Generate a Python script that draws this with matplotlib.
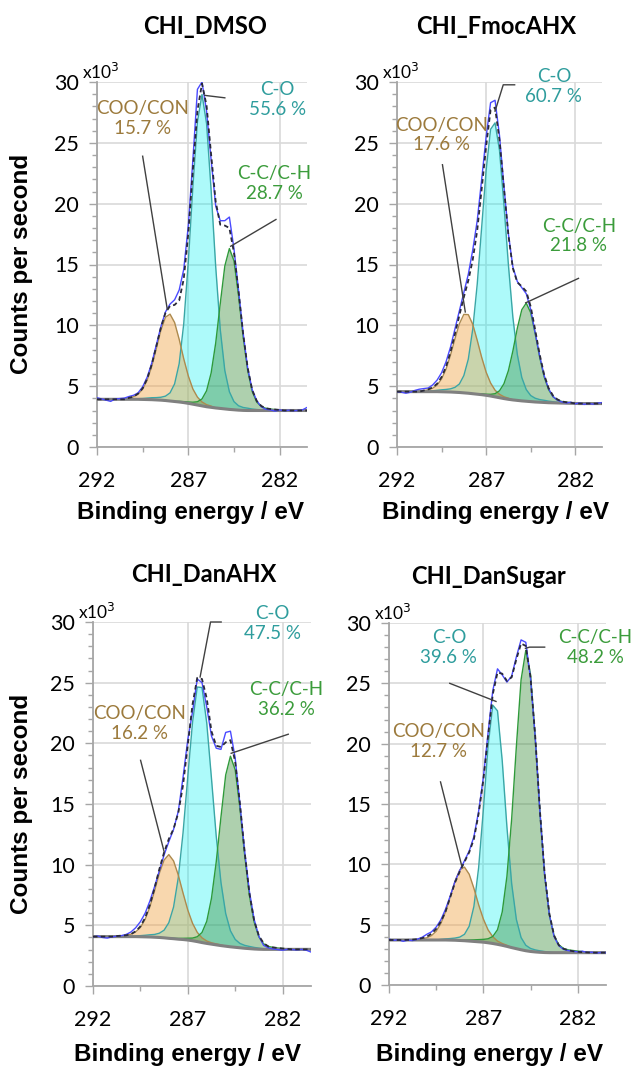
import numpy as np
import matplotlib.pyplot as plt
from matplotlib.ticker import MultipleLocator, FixedLocator

# binding energy grid (eV), 0.25 eV steps from 292 down to 280.5
energy = np.arange(292.0, 280.4, -0.25)

# ---- CHI_DMSO (counts/s x10^3), peaks are heights above the background ----
dmso_bg = [3.92] * 10 + [3.91, 3.90, 3.89, 3.87, 3.85, 3.82, 3.78, 3.74, 3.70, 3.65, 3.59, 3.52,
                         3.45, 3.38, 3.31, 3.26, 3.21, 3.17, 3.13, 3.09, 3.06, 3.03, 3.01] + [3.0] * 14
dmso_coo = [0] * 7 + [0.12, 0.21, 0.42, 0.84, 1.60, 2.74, 4.22, 5.74, 6.85, 7.14, 6.49, 5.15, 3.60,
                      2.25, 1.25, 0.65, 0.32, 0.17, 0.10] + [0] * 21
dmso_co = [0] * 9 + [0.05, 0.08, 0.12, 0.16, 0.19, 0.24, 0.36, 0.67, 1.45, 3.15, 6.48, 11.62, 17.85,
                     23.27, 25.6, 23.27, 17.85, 11.62, 6.48, 3.15, 1.45, 0.67, 0.36, 0.24, 0.19,
                     0.12, 0.08, 0.05] + [0] * 10
dmso_cc = [0] * 18 + [0.05, 0.08, 0.11, 0.16, 0.27, 0.57, 1.31, 2.82, 5.33, 8.62, 11.75, 13.22, 12.25,
                      9.43, 6.09, 3.32, 1.56, 0.69, 0.32, 0.18, 0.12, 0.08, 0.05] + [0] * 6
dmso_fit = [3.92] * 7 + [4.04, 4.13, 4.39, 4.82, 5.62, 6.79, 8.28, 9.83, 11.03, 11.59, 11.68, 12.05,
                         13.81, 17.57, 22.78, 27.64, 29.87, 28.06, 24.03, 20.16, 18.27, 18.2, 18.0,
                         15.98, 12.82, 9.34, 6.51, 4.68, 3.77, 3.37, 3.18, 3.12, 3.08, 3.05] + [3.0] * 6
dmso_meas = [4.05, 3.95, 3.85, 3.75, 3.95, 3.98, 4.02, 4.15, 4.25, 4.45, 4.95, 5.75, 6.9, 8.4, 9.9,
             11.1, 11.75, 12.1, 12.9, 14.6, 18.2, 23.6, 29.4, 30.0, 27.6, 23.6, 19.8, 18.6, 18.6,
             18.9, 16.3, 12.9, 9.4, 6.5, 4.7, 3.8, 3.3, 3.1, 3.05, 2.95, 3.05, 2.98, 3.02, 2.98,
             3.0, 3.05, 3.25]

# ---- CHI_FmocAHX ----
fmoc_bg = [4.55] * 10 + [4.54, 4.53, 4.52, 4.50, 4.48, 4.45, 4.42, 4.38, 4.34, 4.30, 4.25, 4.19,
                         4.12, 4.05, 3.98, 3.92, 3.87, 3.83, 3.79, 3.76, 3.73, 3.70, 3.68, 3.66,
                         3.64, 3.63, 3.62, 3.61, 3.60, 3.59, 3.58] + [3.57] * 6
fmoc_coo = [0] * 6 + [0.09, 0.15, 0.28, 0.54, 1.05, 1.86, 3.02, 4.38, 5.65, 6.45, 6.46, 5.70, 4.43,
                      3.07, 1.90, 1.07, 0.55, 0.28, 0.15, 0.09] + [0] * 21
fmoc_co = [0] * 7 + [0.04, 0.07, 0.11, 0.16, 0.20, 0.26, 0.40, 0.70, 1.42, 2.80, 5.32, 9.04, 13.77,
                     18.49, 21.92, 22.52, 20.33, 15.92, 11.04, 6.80, 3.77, 1.92, 0.96, 0.50, 0.31,
                     0.22, 0.18, 0.13, 0.09, 0.05] + [0] * 10
fmoc_cc = [0] * 19 + [0.07, 0.09, 0.14, 0.26, 0.57, 1.22, 2.36, 4.02, 5.93, 7.49, 8.07, 7.31, 5.63,
                      3.73, 2.13, 1.08, 0.51, 0.24, 0.13, 0.08, 0.05] + [0] * 7
fmoc_fit = [4.55] * 6 + [4.64, 4.74, 4.90, 5.20, 5.75, 6.59, 7.80, 9.28, 10.83, 12.32, 13.68, 15.40,
                         17.81, 21.21, 24.73, 27.7, 27.9, 25.23, 21.27, 17.41, 14.69, 13.53, 13.20,
                         12.79, 11.54, 9.64, 7.63, 5.97, 4.85, 4.23, 3.91, 3.74, 3.68, 3.64,
                         3.58] + [3.57] * 6
fmoc_meas = [4.55, 4.50, 4.42, 4.50, 4.65, 4.75, 4.80, 4.85, 5.10, 5.50, 6.10, 7.00, 8.20, 9.70,
             11.20, 12.70, 14.20, 16.20, 18.60, 22.00, 25.50, 28.30, 28.50, 25.60, 21.40, 17.50,
             14.80, 13.60, 13.10, 12.60, 11.30, 9.40, 7.50, 5.90, 4.80, 4.15, 3.85, 3.70, 3.62,
             3.68, 3.55, 3.62, 3.50, 3.58, 3.52, 3.60, 3.65]

# ---- CHI_DanAHX ----
danahx_bg = [4.07] * 10 + [4.06, 4.05, 4.04, 4.02, 4.00, 3.97, 3.93, 3.90, 3.86, 3.83, 3.79, 3.73,
                           3.66, 3.58, 3.51, 3.45, 3.39, 3.33, 3.28, 3.23, 3.19, 3.15, 3.11, 3.08,
                           3.05, 3.03] + [3.02] * 11
danahx_coo = [0] * 5 + [0.05, 0.08, 0.11, 0.20, 0.39, 0.76, 1.44, 2.47, 3.83, 5.28, 6.41, 6.90, 6.41,
                        5.28, 3.83, 2.47, 1.44, 0.76, 0.39, 0.20, 0.11, 0.08, 0.05] + [0] * 19
danahx_co = [0] * 9 + [0.05, 0.09, 0.13, 0.18, 0.23, 0.35, 0.63, 1.29, 2.61, 5.08, 8.80, 13.46,
                       17.99, 20.98, 21.02, 18.17, 13.65, 8.97, 5.21, 2.69, 1.32, 0.65, 0.36, 0.24,
                       0.18, 0.13, 0.09, 0.05] + [0] * 10
danahx_cc = [0] * 17 + [0.03, 0.06, 0.10, 0.15, 0.22, 0.40, 0.83, 1.82, 3.78, 6.83, 10.60, 14.11,
                        15.71, 14.64, 11.53, 7.69, 4.39, 2.22, 1.02, 0.46, 0.24, 0.16, 0.11, 0.07,
                        0.04] + [0] * 5
danahx_fit = [4.07] * 5 + [4.12, 4.15, 4.18, 4.27, 4.51, 4.91, 5.62, 6.69, 8.08, 9.63, 11.01, 12.12,
                           12.95, 14.28, 16.56, 19.87, 23.2, 25.4, 25.3, 23.70, 20.99, 19.8, 19.7,
                           20.08, 20.26, 18.48, 15.04, 11.04, 7.65, 5.40, 4.14, 3.53, 3.26, 3.18,
                           3.13, 3.09, 3.06] + [3.02] * 5
danahx_meas = [4.05, 4.12, 4.00, 3.95, 4.05, 4.10, 4.15, 4.25, 4.45, 4.80, 5.30, 6.00, 7.00, 8.20,
               9.50, 10.80, 11.90, 12.90, 14.40, 17.20, 20.30, 22.60, 25.30, 25.00, 23.00, 20.60,
               19.60, 19.50, 20.90, 21.00, 18.80, 15.00, 11.10, 7.80, 5.50, 4.10, 3.35, 3.15,
               3.05, 3.00, 2.95, 3.02, 3.00, 2.97, 3.02, 2.95, 2.80]

# ---- CHI_DanSugar ----
dansugar_bg = [3.73] * 13 + [3.72, 3.71, 3.69, 3.67, 3.64, 3.61, 3.58, 3.55, 3.50, 3.44, 3.37, 3.29,
                             3.20, 3.10, 3.01, 2.92, 2.84, 2.78, 2.74, 2.71, 2.69] + [2.68] * 13
dansugar_coo = [0] * 7 + [0.10, 0.18, 0.36, 0.72, 1.37, 2.34, 3.60, 4.90, 5.85, 6.10, 5.54, 4.40,
                          3.07, 1.92, 1.07, 0.56, 0.27, 0.15, 0.09] + [0] * 21
dansugar_co = [0] * 11 + [0.05, 0.09, 0.13, 0.18, 0.28, 0.53, 1.23, 2.91, 6.14, 10.97, 16.29, 19.75,
                          19.35, 15.31, 9.89, 5.30, 2.42, 1.01, 0.45, 0.25, 0.17, 0.12, 0.08,
                          0.05] + [0] * 12
dansugar_cc = [0] * 16 + [0.05, 0.09, 0.13, 0.18, 0.23, 0.33, 0.58, 1.21, 2.76, 5.81, 10.65, 16.75,
                          22.38, 24.90, 22.96, 17.74, 11.58, 6.42, 3.11, 1.40, 0.65, 0.35, 0.23,
                          0.18, 0.13, 0.09, 0.05] + [0] * 4
dansugar_fit = [3.73, 3.73, 3.73, 3.73, 3.74, 3.76, 3.80, 3.88, 4.00, 4.25, 4.65, 5.25, 6.10, 7.30,
                8.50, 9.40, 10.20, 11.00, 12.10, 14.20, 17.00, 20.60, 24.10, 25.90, 25.80, 25.20,
                25.50, 27.00, 28.30, 28.10, 25.50, 20.60, 14.40, 9.20, 5.90, 4.10, 3.30, 3.00,
                2.88, 2.80, 2.75, 2.72, 2.70, 2.68, 2.68, 2.68, 2.68]
dansugar_meas = [3.80, 3.70, 3.75, 3.62, 3.72, 3.68, 3.80, 3.95, 4.20, 4.40, 4.80, 5.40, 6.30, 7.40,
                 8.60, 9.50, 10.30, 11.10, 12.30, 14.40, 17.20, 20.90, 24.40, 26.20, 25.70, 25.10,
                 25.60, 27.20, 28.60, 28.40, 25.40, 20.50, 14.30, 9.10, 5.80, 4.00, 3.25, 2.95,
                 2.85, 2.80, 2.75, 2.80, 2.70, 2.72, 2.65, 2.70, 2.68]

titles = ['CHI_DMSO', 'CHI_FmocAHX', 'CHI_DanAHX', 'CHI_DanSugar']
coo_pct = [15.7, 17.6, 16.2, 12.7]
co_pct = [55.6, 60.7, 47.5, 39.6]
cc_pct = [28.7, 21.8, 36.2, 48.2]

panels = [
    (dmso_bg, dmso_coo, dmso_co, dmso_cc, dmso_fit, dmso_meas),
    (fmoc_bg, fmoc_coo, fmoc_co, fmoc_cc, fmoc_fit, fmoc_meas),
    (danahx_bg, danahx_coo, danahx_co, danahx_cc, danahx_fit, danahx_meas),
    (dansugar_bg, dansugar_coo, dansugar_co, dansugar_cc, dansugar_fit, dansugar_meas),
]

# ---- layout (pixels of the 633 x 1069 canvas) ----
W, H = 633, 1069
ax_px = [(97, 307, 82, 447), (397, 602, 82, 447), (93, 311, 622, 986), (389, 606, 623, 985)]
title_px = [(205, 26), (496, 26), (204, 574), (488, 576)]
xlabel_px = [(190, 513), (495, 513), (188, 1055), (490, 1055)]
ylabel_px = [(22, 264), (22, 804)]

# label centres and leader lines, in data units
coo_txt = [(289.48, 27.0), (289.5, 25.65), (289.57, 21.65), (289.36, 20.2)]
co_txt = [(282.1, 28.55), (283.2, 29.65), (282.55, 29.9), (288.83, 27.98)]
cc_txt = [(282.3, 21.65), (281.8, 17.35), (281.8, 23.6), (281.07, 27.94)]
coo_lead = [[(289.5, 23.9), (288.15, 11.3)], [(289.45, 23.2), (288.17, 11.1)],
            [(289.49, 18.6), (288.25, 11.08)], [(289.27, 16.83), (288.15, 9.9)]]
co_lead = [[(286.1, 28.9), (285.0, 28.7)], [(286.5, 27.6), (286.04, 29.77), (285.4, 29.77)],
           [(286.35, 25.47), (285.8, 30.0), (285.24, 30.0)], [(288.78, 25.0), (286.33, 23.5)]]
cc_lead = [[(284.68, 16.5), (282.2, 18.7)], [(284.78, 11.85), (281.82, 13.86)],
           [(284.71, 19.18), (281.7, 20.75)], [(284.77, 27.9), (284.55, 28.0), (283.75, 28.0)]]

COO_TXT, CO_TXT, CC_TXT = '#9c7a3c', '#2f9d9d', '#3b9c3b'
GRID = '#d9d9d9'
AXC = '#a6a6a6'
SANS = ['Lato', 'DejaVu Sans']
BOLD = ['Liberation Sans', 'DejaVu Sans']

fig = plt.figure(figsize=(W / 100, H / 100), dpi=100)

for i, (bg, coo, co, cc, fit, meas) in enumerate(panels):
    l, r, t, b = ax_px[i]
    ax = fig.add_axes([l / W, (H - b) / H, (r - l) / W, (b - t) / H])
    bg = np.array(bg)

    # components (cyan first, then orange, green on top)
    ax.fill_between(energy, bg, bg + np.array(co), color='#00f0f0', alpha=0.32, lw=0, zorder=2)
    ax.fill_between(energy, bg, bg + np.array(coo), color='#f0a040', alpha=0.42, lw=0, zorder=2)
    ax.fill_between(energy, bg, bg + np.array(cc), color='#3f8f3f', alpha=0.42, lw=0, zorder=2)
    ax.plot(energy, bg + np.array(co), color='#3aa6a6', lw=1.0, zorder=3)
    ax.plot(energy, bg + np.array(coo), color='#ad8a4e', lw=1.0, zorder=3)
    ax.plot(energy, bg + np.array(cc), color='#2f9a3a', lw=1.0, zorder=3)
    ax.plot(energy, bg, color='#808080', lw=2.2, zorder=4)
    ax.plot(energy, meas, color='#4a4aff', lw=1.0, zorder=5)
    ax.plot(energy, fit, color='#2a2a3a', lw=1.3, ls=(0, (2.5, 1.8)), zorder=6)

    # labels + leader lines
    for txt, lead, name, pct, col in [
        (coo_txt[i], coo_lead[i], 'COO/CON', coo_pct[i], COO_TXT),
        (co_txt[i], co_lead[i], 'C-O', co_pct[i], CO_TXT),
        (cc_txt[i], cc_lead[i], 'C-C/C-H', cc_pct[i], CC_TXT),
    ]:
        xs, ys = zip(*lead)
        ax.plot(xs, ys, color='#404040', lw=1.0, zorder=7, clip_on=False)
        ax.text(txt[0], txt[1], f'{name}\n{pct:.1f} %', color=col, ha='center', va='center',
                fontsize=13.5, family=SANS, linespacing=1.2, zorder=8)

    ax.set_xlim(292, 280.5)
    ax.set_ylim(0, 30)
    ax.xaxis.set_major_locator(FixedLocator([292, 287, 282]))
    ax.xaxis.set_minor_locator(FixedLocator([289.5, 284.5]))
    ax.yaxis.set_major_locator(MultipleLocator(5))
    ax.yaxis.set_minor_locator(MultipleLocator(1))
    ax.grid(which='major', color=GRID, lw=1.2, zorder=0)
    ax.set_axisbelow(True)
    for s in ['top', 'right']:
        ax.spines[s].set_visible(False)
    for s in ['left', 'bottom']:
        ax.spines[s].set_color(AXC)
        ax.spines[s].set_linewidth(1.3)
    ax.tick_params(which='major', length=6, width=1, color=AXC, labelsize=15.5)
    ax.tick_params(which='minor', length=3.5, width=1, color=AXC)
    ax.tick_params(axis='x', which='major', pad=11)
    ax.tick_params(axis='y', which='major', pad=7)
    for lab in ax.get_xticklabels() + ax.get_yticklabels():
        lab.set_family(SANS)
    ax.annotate('x10$^3$', xy=(0, 1), xycoords='axes fraction', xytext=(-11, 0),
                textcoords='offset points', ha='left', va='bottom', fontsize=12.5, family=SANS)

    fig.text(title_px[i][0] / W, 1 - title_px[i][1] / H, titles[i], ha='center', va='center',
             fontsize=17, fontweight='bold', family=SANS)
    fig.text(xlabel_px[i][0] / W, 1 - xlabel_px[i][1] / H, 'Binding energy / eV', ha='center',
             va='center', fontsize=17.5, fontweight='bold', family=BOLD)

for xp, yp in ylabel_px:
    fig.text(xp / W, 1 - yp / H, 'Counts per second', rotation=90, ha='center', va='center',
             fontsize=17.5, fontweight='bold', family=BOLD)

fig.savefig('out.png', dpi=100)
